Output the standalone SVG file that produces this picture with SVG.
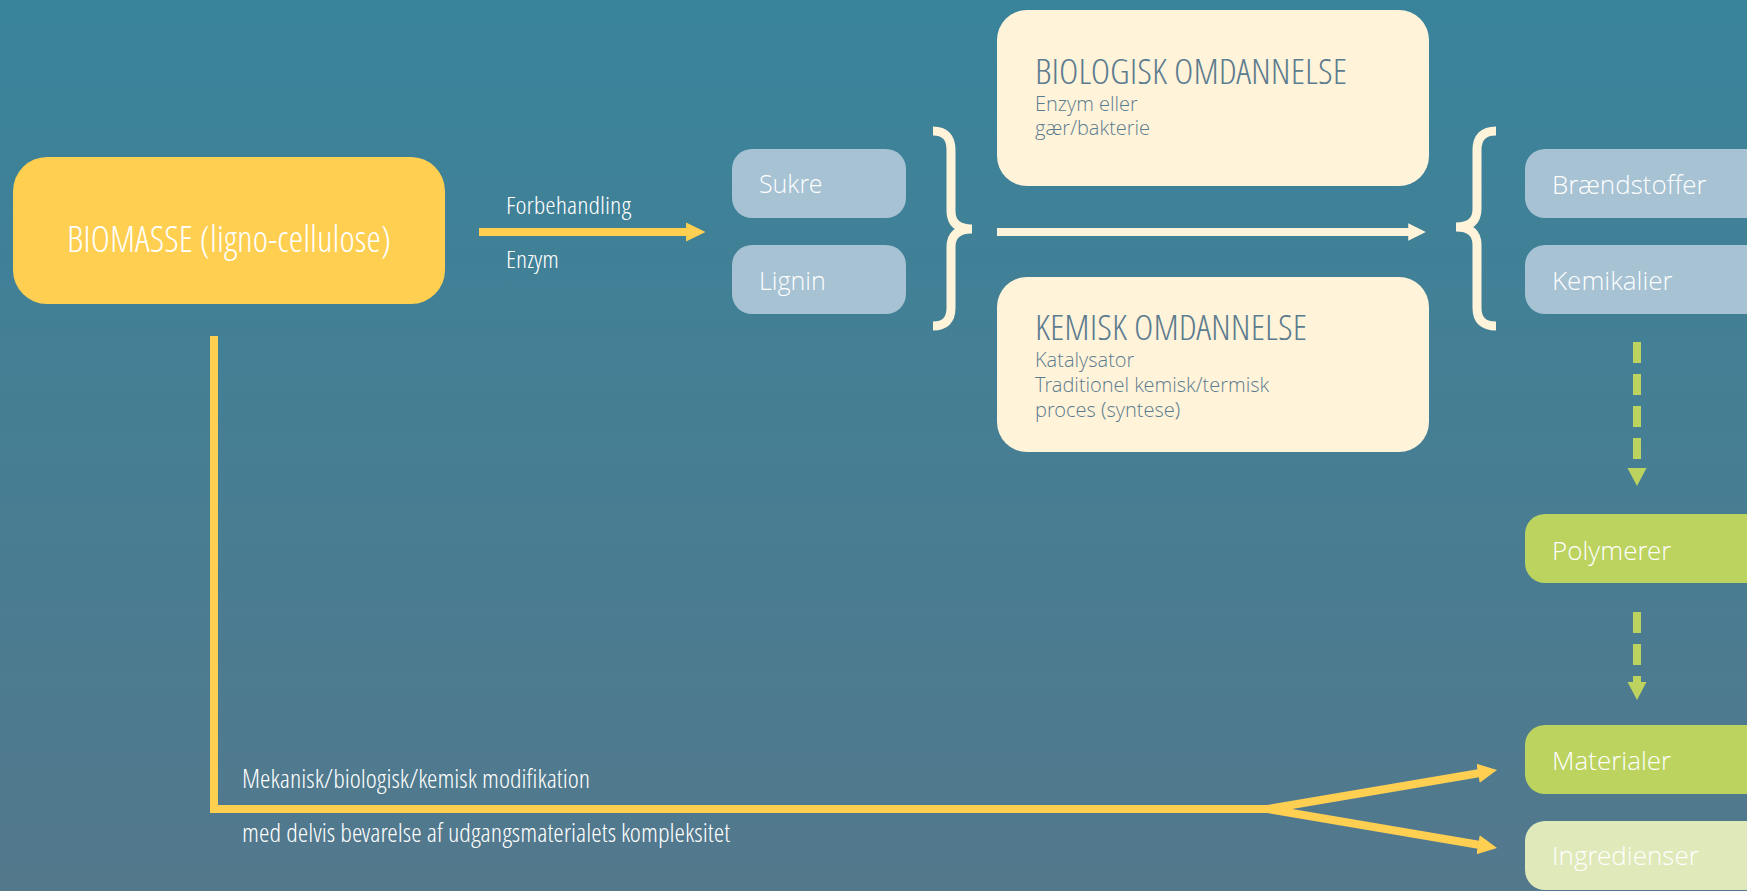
<svg xmlns="http://www.w3.org/2000/svg" width="1747" height="891" viewBox="0 0 1747 891">
<defs>
<linearGradient id="bg" x1="0" y1="0" x2="0" y2="1">
<stop offset="0" stop-color="#39849b"/>
<stop offset="1" stop-color="#53788c"/>
</linearGradient>
<marker id="ya" viewBox="0 0 10 10" refX="1" refY="5" markerWidth="2.4" markerHeight="2.6" orient="auto" markerUnits="strokeWidth">
<path d="M0,0 L10,5 L0,10 z" fill="#ffcf52"/>
</marker>
<marker id="wa" viewBox="0 0 10 10" refX="1" refY="5" markerWidth="2.2" markerHeight="2.4" orient="auto" markerUnits="strokeWidth">
<path d="M0,0 L10,5 L0,10 z" fill="#fff3da"/>
</marker>
</defs>
<style>
.cond{font-family:"Open Sans Condensed Light","Open Sans Condensed","Open Sans","Liberation Sans",sans-serif;font-weight:300;font-stretch:condensed;}
.reg{font-family:"Open Sans Light","Open Sans","Liberation Sans",sans-serif;font-weight:300;}
.wt{fill:#ffffff;}
.dk{fill:#5b7b8e;}
.blue{fill:#a6c2d3;}
.green{fill:#bcd35f;}
.lgreen{fill:#dfe9b9;}
.cream{fill:#fff3da;}
.yellow{fill:#ffcf52;}
.ylw{stroke:#ffcf52;stroke-width:8;fill:none;}
.gdash{stroke:#bcd35f;stroke-width:8;fill:none;stroke-dasharray:21 11;}
.brace{stroke:#fff3da;stroke-width:9;fill:none;}
</style>
<rect x="0" y="0" width="1747" height="891" fill="url(#bg)"/>

<g id="connectors">
<line x1="479" y1="232" x2="688" y2="232" class="ylw" marker-end="url(#ya)"/>
<line x1="997" y1="232" x2="1410" y2="232" stroke="#fff3da" stroke-width="8" marker-end="url(#wa)"/>
<path class="brace" d="M933,131 Q951,131 951,150 L951,211 Q951,229 972,229 Q951,229 951,247 L951,308 Q951,326 933,326"/>
<path class="brace" d="M1496,131 Q1477,131 1477,150 L1477,209 Q1477,227 1456,227 Q1477,227 1477,245 L1477,308 Q1477,326 1496,326"/>
<line x1="1637" y1="342" x2="1637" y2="468" class="gdash"/>
<path d="M1627.5,468 L1646.5,468 L1637,486 z" fill="#bcd35f"/>
<line x1="1637" y1="612" x2="1637" y2="682" class="gdash"/>
<path d="M1627.5,682 L1646.5,682 L1637,700 z" fill="#bcd35f"/>
<path class="ylw" d="M214,336 L214,809 L1272,809"/>
<line x1="1268" y1="809" x2="1480" y2="773" class="ylw" marker-end="url(#ya)"/>
<line x1="1268" y1="809" x2="1480" y2="845" class="ylw" marker-end="url(#ya)"/>
<text class="cond wt" x="506" y="214" font-size="24" textLength="125" lengthAdjust="spacingAndGlyphs">Forbehandling</text>
<text class="cond wt" x="506" y="268" font-size="24" textLength="53" lengthAdjust="spacingAndGlyphs">Enzym</text>
<text class="cond wt" x="242" y="788" font-size="25" textLength="348" lengthAdjust="spacingAndGlyphs">Mekanisk/biologisk/kemisk modifikation</text>
<text class="cond wt" x="242" y="842" font-size="25" textLength="488" lengthAdjust="spacingAndGlyphs">med delvis bevarelse af udgangsmaterialets kompleksitet</text>
</g>

<g id="biomasse">
<rect x="13" y="157" width="432" height="147" rx="34" class="yellow"/>
<text class="cond wt" x="67" y="252" font-size="37" textLength="324" lengthAdjust="spacingAndGlyphs">BIOMASSE (ligno-cellulose)</text>
</g>
<g id="sukre">
<rect x="732" y="149" width="174" height="69" rx="20" class="blue"/>
<text class="reg wt" x="759" y="193" font-size="25">Sukre</text>
</g>
<g id="lignin">
<rect x="732" y="245" width="174" height="69" rx="20" class="blue"/>
<text class="reg wt" x="759" y="290" font-size="25">Lignin</text>
</g>
<g id="biologisk">
<rect x="997" y="10" width="432" height="176" rx="30" class="cream"/>
<text class="cond dk" x="1035" y="84" font-size="35" textLength="312" lengthAdjust="spacingAndGlyphs">BIOLOGISK OMDANNELSE</text>
<text class="reg dk" x="1035" y="111" font-size="20">Enzym eller</text>
<text class="reg dk" x="1035" y="135" font-size="20">gær/bakterie</text>
</g>
<g id="kemisk">
<rect x="997" y="277" width="432" height="175" rx="30" class="cream"/>
<text class="cond dk" x="1035" y="340" font-size="35" textLength="272" lengthAdjust="spacingAndGlyphs">KEMISK OMDANNELSE</text>
<text class="reg dk" x="1035" y="367" font-size="20">Katalysator</text>
<text class="reg dk" x="1035" y="392" font-size="20">Traditionel kemisk/termisk</text>
<text class="reg dk" x="1035" y="417" font-size="20">proces (syntese)</text>
</g>
<g id="braendstoffer">
<rect x="1525" y="149" width="240" height="69" rx="20" class="blue"/>
<text class="reg wt" x="1552" y="194" font-size="26">Brændstoffer</text>
</g>
<g id="kemikalier">
<rect x="1525" y="245" width="240" height="69" rx="20" class="blue"/>
<text class="reg wt" x="1552" y="290" font-size="26">Kemikalier</text>
</g>
<g id="polymerer">
<rect x="1525" y="514" width="240" height="69" rx="20" class="green"/>
<text class="reg wt" x="1552" y="560" font-size="26">Polymerer</text>
</g>
<g id="materialer">
<rect x="1525" y="725" width="240" height="69" rx="20" class="green"/>
<text class="reg wt" x="1552" y="770" font-size="26">Materialer</text>
</g>
<g id="ingredienser">
<rect x="1525" y="821" width="240" height="69" rx="20" class="lgreen"/>
<text class="reg wt" x="1552" y="865" font-size="26">Ingredienser</text>
</g>
</svg>
